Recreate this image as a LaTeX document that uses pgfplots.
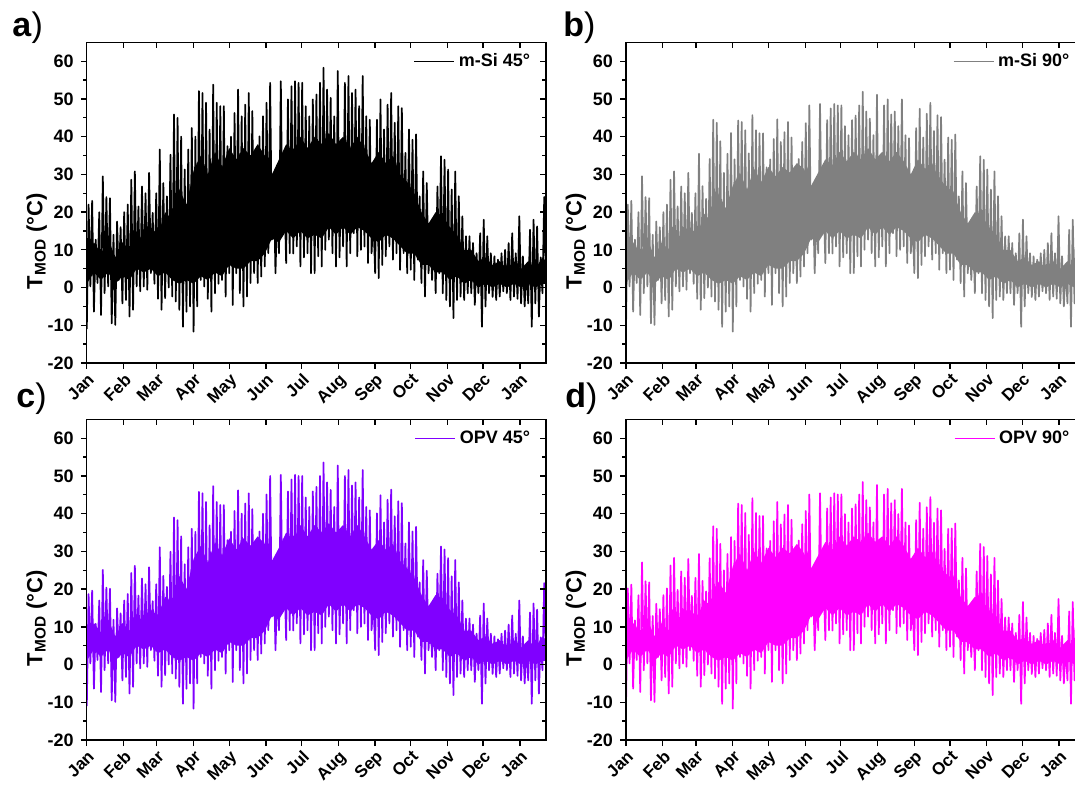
\documentclass[border=0pt]{standalone}
\usepackage{pgfplots}
\pgfplotsset{compat=1.18}
\usepackage{pgfplotstable}
\usepgfplotslibrary{fillbetween}
\usepackage{fontspec}
\setmainfont{Liberation Sans}
\definecolor{msigray}{RGB}{128,128,128}
\definecolor{opvpurple}{RGB}{128,0,255}
\definecolor{opvmagenta}{RGB}{255,0,255}

\pgfplotstableread{
x a b c d
0 -11 -11 -11 -11
1.5 22 22 18.7 20.2
3 0.3 0.3 0.3 0.3
4.5 23 23 19.6 21.2
6 -6.4 -6.4 -6.4 -6.4
7.5 12.7 12.7 10.8 11.7
9 1.2 1.2 1.2 1.2
10.5 20 20 17 18.4
12 -7.3 -7.3 -7.3 -7.3
13.5 29.5 29.5 25.1 27.1
15 -1.5 -1.5 -1.5 -1.5
16.5 24 24 20.4 22.1
18 0.3 0.3 0.3 0.3
19.5 23.7 23.7 20.1 21.8
21 -9.5 -9.5 -9.5 -9.5
22.5 14 14 11.9 12.9
24 -9.9 -9.9 -9.9 -9.9
25.5 17.5 17.5 14.9 16.1
27 2 2 2 2
28.5 16 16 13.6 14.7
30 -4.2 -4.2 -4.2 -4.2
31.5 20 20 17 18.4
33 -3.3 -3.3 -3.3 -3.3
34.5 22 22 18.7 20.2
36 -7.7 -7.7 -7.7 -7.7
37.5 28.6 28.6 24.3 26.3
39 -5.9 -5.9 -5.9 -5.9
40.5 30.8 30.8 26.2 28.3
42 0.3 0.3 0.3 0.3
43.5 21.5 21.5 18.3 19.8
45 -1 -1 -1 -1
46.5 26.8 26.8 22.8 24.7
48 0.3 0.3 0.3 0.3
49.5 25 25 21.3 23
51 -0.6 -0.6 -0.6 -0.6
52.5 30.4 30.4 25.8 28
54 3.8 3.8 3.8 3.8
55.5 19.8 19.8 16.8 18.2
57 1 1 1 1
58.5 25 25 21.3 23
60 -3 -3 -3 -3
61.5 36.6 35.5 31.1 29.3
63 -5.9 -5.9 -5.9 -5.9
64.5 27.7 26.9 23.5 22.2
66 -2.8 -2.8 -2.8 -2.8
67.5 24.2 23.5 20.6 19.4
69 0 0 0 0
70.5 35.2 34.1 29.9 28.2
72 -2.4 -2.4 -2.4 -2.4
73.5 45.9 44.5 39 36.7
75 -3.7 -3.7 -3.7 -3.7
76.5 45 43.7 38.3 36
78 -5.9 -5.9 -5.9 -5.9
79.5 40 38.8 34 32
81 -10.4 -10.4 -10.4 -10.4
82.5 31.3 30.4 26.6 25
84 -6.4 -6.4 -6.4 -6.4
85.5 36.6 35.5 31.1 29.3
87 -5 -5 -5 -5
88.5 42.3 41 36 33.8
90 -11.7 -11.7 -11.7 -11.7
91.5 40 34 35.2 32.8
93 -5 -5 -5 -5
94.5 52.1 44.3 45.8 42.7
96 2 2 2 2
97.5 51.6 43.9 45.4 42.3
99 0.3 0.3 0.3 0.3
100.5 49 41.7 43.1 40.2
102 -3 -3 -3 -3
103.5 41.9 35.6 36.9 34.4
105 -6.4 -6.4 -6.4 -6.4
106.5 53.8 45.7 47.3 44.1
108 -1.5 -1.5 -1.5 -1.5
109.5 49 41.7 43.1 40.2
111 1 1 1 1
112.5 48.1 40.9 42.3 39.4
114 2 2 2 2
115.5 48.1 40.9 42.3 39.4
117 -2.4 -2.4 -2.4 -2.4
118.5 37.5 31.9 33 30.8
120 3.8 3.8 3.8 3.8
121.5 40 34 35.2 32.8
123 -4.6 -4.6 -4.6 -4.6
124.5 46.3 39.4 40.7 38
126 3.8 3.8 3.8 3.8
127.5 52.5 44.6 46.2 43.1
129 -1.5 -1.5 -1.5 -1.5
130.5 45.4 38.6 40 37.2
132 -5 -5 -5 -5
133.5 48.5 41.2 42.7 39.8
135 -2.4 -2.4 -2.4 -2.4
136.5 51.6 43.9 45.4 42.3
138 1.2 1.2 1.2 1.2
139.5 46.8 39.8 41.2 38.4
141 3.8 3.8 3.8 3.8
142.5 34.8 29.6 30.6 28.5
144 1.2 1.2 1.2 1.2
145.5 40.1 34.1 35.3 32.9
147 2.9 2.9 2.9 2.9
148.5 45.4 38.6 40 37.2
150 5.6 5.6 5.6 5.6
151.5 49 43.6 45.1 40.7
153 9.1 9.1 9.1 9.1
154.5 54.3 48.3 50 45.1
156 12.7 12.7 12.7 12.7
157.5 29.5 26.3 27.1 24.5
159 3.8 3.8 3.8 3.8
160.5 21.5 19.1 19.8 17.8
162 9.1 9.1 9.1 9.1
163.5 54.7 48.7 50.3 45.4
165 14.4 14.4 14.4 14.4
166.5 26.8 23.9 24.7 22.2
168 6.5 6.5 6.5 6.5
169.5 49.9 44.4 45.9 41.4
171 9.1 9.1 9.1 9.1
172.5 53.4 47.5 49.1 44.3
174 9 9 9 9
175.5 54.7 48.7 50.3 45.4
177 10.9 10.9 10.9 10.9
178.5 54.3 48.3 50 45.1
180 5.6 5.6 5.6 5.6
181.5 54.3 48.3 50 45.1
183 8 8 8 8
184.5 48.1 42.8 44.3 39.9
186 9.1 9.1 9.1 9.1
187.5 45.4 40.4 41.8 37.7
189 3.8 3.8 3.8 3.8
190.5 49.9 44.4 45.9 41.4
192 3.8 3.8 3.8 3.8
193.5 51.2 45.6 47.1 42.5
195 8.3 8.3 8.3 8.3
196.5 54.3 48.3 50 45.1
198 5.6 5.6 5.6 5.6
199.5 58.3 51.9 53.6 48.4
201 10 10 10 10
202.5 52.5 46.7 48.3 43.6
204 12.7 12.7 12.7 12.7
205.5 50.3 44.8 46.3 41.7
207 9.1 9.1 9.1 9.1
208.5 45.4 40.4 41.8 37.7
210 5.6 5.6 5.6 5.6
211.5 57.4 51.1 52.8 47.6
213 8 8 8 8
214.5 35.7 31.8 32.8 29.6
216 10.9 10.9 10.9 10.9
217.5 54.3 48.3 50 45.1
219 5.6 5.6 5.6 5.6
220.5 56.1 49.9 51.6 46.6
222 9.1 9.1 9.1 9.1
223.5 51.6 45.9 47.5 42.8
225 14.4 14.4 14.4 14.4
226.5 52.5 46.7 48.3 43.6
228 8.3 8.3 8.3 8.3
229.5 48.1 42.8 44.3 39.9
231 10 10 10 10
232.5 56.1 49.9 51.6 46.6
234 10.9 10.9 10.9 10.9
235.5 45.4 40.4 41.8 37.7
237 6.5 6.5 6.5 6.5
238.5 44.5 39.6 40.9 36.9
240 9.1 9.1 9.1 9.1
241.5 19 16.9 17.5 15.8
243 3.8 3.8 3.8 3.8
244.5 44.5 42.3 40.1 38.3
246 2.5 2.5 2.5 2.5
247.5 49.9 47.4 44.9 42.9
249 6 6 6 6
250.5 41.9 39.8 37.7 36
252 8.3 8.3 8.3 8.3
253.5 48.5 46.1 43.7 41.7
255 10.9 10.9 10.9 10.9
256.5 51.6 49 46.4 44.4
258 7.4 7.4 7.4 7.4
259.5 43.7 41.5 39.3 37.6
261 9.1 9.1 9.1 9.1
262.5 48.1 45.7 43.3 41.4
264 4.7 4.7 4.7 4.7
265.5 47.6 45.2 42.8 40.9
267 9.1 9.1 9.1 9.1
268.5 35.7 33.9 32.1 30.7
270 3.8 3.8 3.8 3.8
271.5 41.9 39.8 37.7 36
273 4.7 4.7 4.7 4.7
274.5 39.2 39.2 35.3 36.1
276 2 2 2 2
277.5 40.6 40.6 36.5 37.4
279 7.4 7.4 7.4 7.4
280.5 24.2 24.2 21.8 22.3
282 1.2 1.2 1.2 1.2
283.5 30.8 30.8 27.7 28.3
285 -2.4 -2.4 -2.4 -2.4
286.5 27.7 27.7 24.9 25.5
288 3.8 3.8 3.8 3.8
289.5 13.6 13.6 12.2 12.5
291 2 2 2 2
292.5 16.2 16.2 14.6 14.9
294 -1.5 -1.5 -1.5 -1.5
295.5 26.8 26.8 24.1 24.7
297 3.8 3.8 3.8 3.8
298.5 34.8 34.8 31.3 32
300 -1.5 -1.5 -1.5 -1.5
301.5 33.9 33.9 30.5 31.2
303 -3.3 -3.3 -3.3 -3.3
304.5 31.3 31.3 28.2 28.8
306 -5 -5 -5 -5
307.5 26 26 23.4 23.9
309 -8.1 -8.1 -8.1 -8.1
310.5 30.8 30.8 27.7 28.3
312 -3.3 -3.3 -3.3 -3.3
313.5 24.2 24.2 21.8 22.3
315 -2.4 -2.4 -2.4 -2.4
316.5 18.9 18.9 17 17.4
318 -3.3 -3.3 -3.3 -3.3
319.5 13.6 13.6 12.2 12.5
321 -1.5 -1.5 -1.5 -1.5
322.5 13.6 13.6 12.2 12.5
324 -1.5 -1.5 -1.5 -1.5
325.5 11.8 11.8 10.6 10.9
327 -4.6 -4.6 -4.6 -4.6
328.5 9.1 9.1 8.2 8.4
330 -1.5 -1.5 -1.5 -1.5
331.5 14.4 14.4 13 13.2
333 -10.4 -10.4 -10.4 -10.4
334.5 18 18 16.2 16.6
336 -5 -5 -5 -5
337.5 13.6 13.6 12.2 12.5
339 -1.5 -1.5 -1.5 -1.5
340.5 9.1 9.1 8.2 8.4
342 -2.5 -2.5 -2.5 -2.5
343.5 8.3 8.3 7.5 7.6
345 -3.3 -3.3 -3.3 -3.3
346.5 7.4 7.4 6.7 6.8
348 -2.4 -2.4 -2.4 -2.4
349.5 9.1 9.1 8.2 8.4
351 -1 -1 -1 -1
352.5 10 10 9 9.2
354 -1.5 -1.5 -1.5 -1.5
355.5 11.8 11.8 10.6 10.9
357 -3.3 -3.3 -3.3 -3.3
358.5 14.4 14.4 13 13.2
360 -2.4 -2.4 -2.4 -2.4
361.5 9.1 9.1 8.2 8.4
363 -3 -3 -3 -3
364.5 18.9 18.9 17 17.4
366 -4.2 -4.2 -4.2 -4.2
367.5 8.3 8.3 7.5 7.6
369 -5 -5 -5 -5
370.5 5.6 5.6 5 5.2
372 -4.2 -4.2 -4.2 -4.2
373.5 15.3 15.3 13.8 14.1
375 -10.4 -10.4 -10.4 -10.4
376.5 18 18 16.2 16.6
378 -4.2 -4.2 -4.2 -4.2
379.5 16.2 16.2 14.6 14.9
381 -7.7 -7.7 -7.7 -7.7
382.5 8 8 7.2 7.4
384 -1.5 -1.5 -1.5 -1.5
385.5 24 24 21.6 22.1
387 0.3 0.3 0.3 0.3
}\zz

\pgfplotstableread{
day lo ahi bhi chi dhi
0 1 8 8 7.5 7.5
6 4 12 12 11 11
12 2 9 9 8.5 8.5
18 4 13 13 12 12
24 1 8 8 7.5 7.5
30 3 12 12 11 11
36 2 10 10 9 9
42 5 15 15 13.5 13.5
48 4 12 12 11 11
54 5 16 16 14.5 14.5
60 3 14 14 13 12.5
66 4 20 19.5 18 17
72 2 18 17.5 16.5 15.5
78 1 26 25 23.5 22
84 2 22 21 20 19
90 1 31 27 28 26
96 3 35 30.5 31.5 29.5
102 2 30 26 27 25
108 4 36 31.5 32.5 30
114 3 32 28 29 27
120 6 37 32 33.5 31
126 5 34 29.5 30.5 28.5
132 5 37 32 33.5 31
138 7 35 30.5 31.5 29.5
144 7 38 33 34 32
150 9 35 31.5 32 29.5
156 13 30 27 27.5 25.5
162 12 34 30.5 31 29
168 15 38 34 35 32.5
174 13 36 32.5 33 30.5
180 15 40 36 37 34
186 13 37 33.5 34 31.5
192 14 40 36 37 34
198 13 38 34 35 32.5
204 16 41 37 37.5 35
210 14 38 34 35 32.5
216 16 40 36 37 34
222 14 37 33.5 34 31.5
228 16 40 36 37 34
234 15 37 33.5 34 31.5
240 13 33 30 30.5 28
246 12 36 34 33 31
252 14 33 31.5 30.5 28.5
258 13 35 33 32 30
264 11 30 28.5 27.5 26
270 9 28 27 25.5 24
276 9 25 25 23 22.5
282 6 20 20 18.5 18
288 6 17 17 15.5 15.5
294 4 20 20 18.5 18
300 4 19 19 17.5 17
306 2 16 16 14.5 14.5
312 3 14 14 13 12.5
318 1 10 10 9 9
324 2 10 10 9 9
330 0 7 7 6.5 6.5
336 1 8 8 7.5 7
342 0 6 6 5.5 5.5
348 1 7 7 6.5 6.5
354 0 5 5 4.5 4.5
360 1 7 7 6.5 6.5
366 0 5 5 4.5 4.5
372 1 7 7 6.5 6.5
378 0 5 5 4.5 4.5
384 1 8 8 7.5 7.5
387 1 7 7 6.5 6.5
}\core

\pgfplotsset{
  panel/.style={
    width=229.6pt, height=160.3pt, scale only axis,
    xmin=0, xmax=387, ymin=-20, ymax=65,
    xtick={0,31,59,90,120,151,181,212,243,273,304,334,365},
    ytick={-20,-10,...,60},
    minor ytick={-15,-5,...,55},
    axis line style={line width=0.65pt},
    tick style={black, line width=0.65pt},
    major tick length=3pt,
    minor tick length=1.8pt,
    /pgf/number format/assume math mode=true,
  },
  mainpanel/.style={
    panel,
    tick align=outside,
    xtick pos=left, ytick pos=left,
    xticklabels={Jan,Feb,Mar,Apr,May,Jun,Jul,Aug,Sep,Oct,Nov,Dec,Jan},
    yticklabel style={font=\bfseries\fontsize{9}{10}\selectfont},
    xticklabel style={font=\bfseries\fontsize{8.5}{10}\selectfont, rotate=45, anchor=north east, inner sep=1pt},
    ylabel={T\textsubscript{MOD} (°C)},
    ylabel style={font=\bfseries\fontsize{11}{12}\selectfont, at={(ticklabel cs:0.38)}, anchor=near ticklabel, yshift=-6.5pt},
    legend style={draw=none, fill=none, at={(0.975,0.94)}, anchor=east,
      font=\bfseries\fontsize{9}{11}\selectfont, inner sep=0pt},
    legend image code/.code={\draw[#1, line width=0.6pt] (0pt,0pt) -- (20pt,0pt);},
  },
  overpanel/.style={
    panel,
    tick align=inside,
    xtick pos=right, ytick pos=right,
    xticklabels={}, yticklabels={},
  },
  series/.style={line width=0.85pt, line join=round},
}

\begin{document}
\begin{tikzpicture}
% panel a
\begin{axis}[mainpanel, at={(43.4pt,212pt)}, anchor=south west]
  \addplot[name path=ha, draw=none, forget plot] table[x=day,y=ahi]{\core};
  \addplot[name path=la, draw=none, forget plot] table[x=day,y=lo]{\core};
  \addplot[fill=black, draw=none, forget plot] fill between[of=ha and la];
  \addplot[black, series] table[x=x,y=a]{\zz};
  \addlegendentry{m-Si 45°}
\end{axis}
\begin{axis}[overpanel, at={(43.4pt,212pt)}, anchor=south west]
\end{axis}
% panel b
\begin{axis}[mainpanel, at={(313pt,212pt)}, anchor=south west]
  \addplot[name path=hb, draw=none, forget plot] table[x=day,y=bhi]{\core};
  \addplot[name path=lb, draw=none, forget plot] table[x=day,y=lo]{\core};
  \addplot[fill=msigray, draw=none, forget plot] fill between[of=hb and lb];
  \addplot[msigray, series] table[x=x,y=b]{\zz};
  \addlegendentry{m-Si 90°}
\end{axis}
\begin{axis}[overpanel, at={(313pt,212pt)}, anchor=south west]
\end{axis}
% panel c
\begin{axis}[mainpanel, at={(43.4pt,23.5pt)}, anchor=south west]
  \addplot[name path=hc, draw=none, forget plot] table[x=day,y=chi]{\core};
  \addplot[name path=lc, draw=none, forget plot] table[x=day,y=lo]{\core};
  \addplot[fill=opvpurple, draw=none, forget plot] fill between[of=hc and lc];
  \addplot[opvpurple, series] table[x=x,y=c]{\zz};
  \addlegendentry{OPV 45°}
\end{axis}
\begin{axis}[overpanel, at={(43.4pt,23.5pt)}, anchor=south west]
\end{axis}
% panel d
\begin{axis}[mainpanel, at={(313pt,23.5pt)}, anchor=south west]
  \addplot[name path=hd, draw=none, forget plot] table[x=day,y=dhi]{\core};
  \addplot[name path=ld, draw=none, forget plot] table[x=day,y=lo]{\core};
  \addplot[fill=opvmagenta, draw=none, forget plot] fill between[of=hd and ld];
  \addplot[opvmagenta, series] table[x=x,y=d]{\zz};
  \addlegendentry{OPV 90°}
\end{axis}
\begin{axis}[overpanel, at={(313pt,23.5pt)}, anchor=south west]
\end{axis}
% panel letters
\node[anchor=base west, inner sep=0pt, font=\fontsize{17}{17}\selectfont] at (6pt,375pt) {\textbf{a})};
\node[anchor=base west, inner sep=0pt, font=\fontsize{17}{17}\selectfont] at (281.5pt,375pt) {\textbf{b})};
\node[anchor=base west, inner sep=0pt, font=\fontsize{17}{17}\selectfont] at (8pt,189.5pt) {\textbf{c})};
\node[anchor=base west, inner sep=0pt, font=\fontsize{17}{17}\selectfont] at (282.5pt,189.5pt) {\textbf{d})};
\pgfresetboundingbox
\useasboundingbox (0pt,0pt) rectangle (537.5pt,393.5pt);
\end{tikzpicture}
\end{document}
